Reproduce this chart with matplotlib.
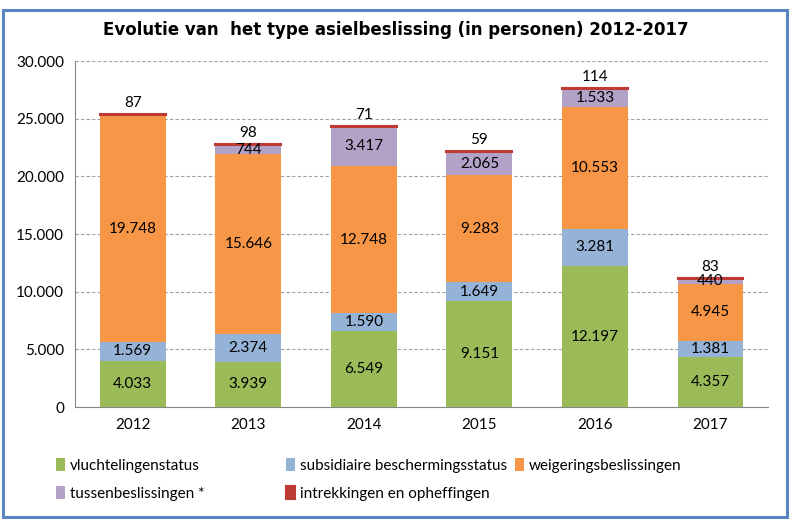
import matplotlib.pyplot as plt
import numpy as np
from matplotlib.patches import Rectangle

# data
jaren = ["2012", "2013", "2014", "2015", "2016", "2017"]
vluchteling = [4033, 3939, 6549, 9151, 12197, 4357]
subsidiair = [1569, 2374, 1590, 1649, 3281, 1381]
weigering = [19748, 15646, 12748, 9283, 10553, 4945]
tussen = [0, 744, 3417, 2065, 1533, 440]
intrekking = [87, 98, 71, 59, 114, 83]

namen = ["vluchtelingenstatus", "subsidiaire beschermingsstatus",
         "weigeringsbeslissingen", "tussenbeslissingen *",
         "intrekkingen en opheffingen"]
kleuren = ["#9BBB59", "#95B3D7", "#F79646", "#B3A2C7", "#BE3A35"]

plt.rcParams['font.family'] = ['Lato', 'DejaVu Sans']

fig = plt.figure(figsize=(8.07, 5.31), dpi=100)
ax = fig.add_axes([0.093, 0.2335, 0.859, 0.6515])

x = np.arange(len(jaren))
breedte = 0.57
series = [vluchteling, subsidiair, weigering, tussen, intrekking]
onder = np.zeros(len(jaren))
balken = []
for i, s in enumerate(series):
    s = np.array(s, dtype=float)
    if i == 4:
        # the thin red top segment, given an edge so it shows
        b = ax.bar(x, s, breedte, bottom=onder, color=kleuren[i],
                   edgecolor=kleuren[i], linewidth=1.5, zorder=3)
    else:
        b = ax.bar(x, s, breedte, bottom=onder, color=kleuren[i], zorder=3)
    balken.append(b)
    for j in range(len(jaren)):
        if s[j] <= 0:
            continue
        tekst = f"{int(s[j]):,}".replace(",", ".")
        if i == 4:
            ax.text(x[j], onder[j] + s[j] + 350, tekst, ha='center',
                    va='bottom', fontsize=11, zorder=4)
        else:
            ax.text(x[j], onder[j] + s[j] / 2, tekst, ha='center',
                    va='center', fontsize=11, zorder=4)
    onder = onder + s

ax.set_xlim(-0.5, 5.5)
ax.set_ylim(0, 30000)
ax.set_xticks(x)
ax.set_xticklabels(jaren, fontsize=11)
ax.set_yticks(range(0, 30001, 5000))
ax.set_yticklabels([f"{v:,}".replace(",", ".") for v in range(0, 30001, 5000)],
                   fontsize=11)
ax.tick_params(length=0, pad=8)
ax.grid(axis='y', linestyle=(0, (3, 2)), color='#a0a0a0', linewidth=0.8, zorder=0)
ax.spines['top'].set_visible(False)
ax.spines['right'].set_visible(False)
ax.spines['left'].set_color('#868686')
ax.spines['bottom'].set_color('#868686')

fig.text(0.49, 0.943, "Evolutie van  het type asielbeslissing (in personen) 2012-2017",
         ha='center', va='center', fontsize=12, fontweight='bold',
         family='DejaVu Sans')

# legend in three columns
kolommen = [([0, 3], 0.062), ([1, 4], 0.347), ([2], 0.631)]
for idx, xpos in kolommen:
    fig.legend([balken[k] for k in idx], [namen[k] for k in idx],
               loc='upper left', bbox_to_anchor=(xpos, 0.149), frameon=False,
               fontsize=11, handlelength=0.6, handleheight=0.9,
               handletextpad=0.3, labelspacing=0.9, borderaxespad=0)

fig.patches.append(Rectangle((0.004, 0.027), 0.971, 0.955, transform=fig.transFigure,
                             fill=False, edgecolor='#5B86C0', linewidth=2.2))

fig.savefig("out.png", dpi=100)
